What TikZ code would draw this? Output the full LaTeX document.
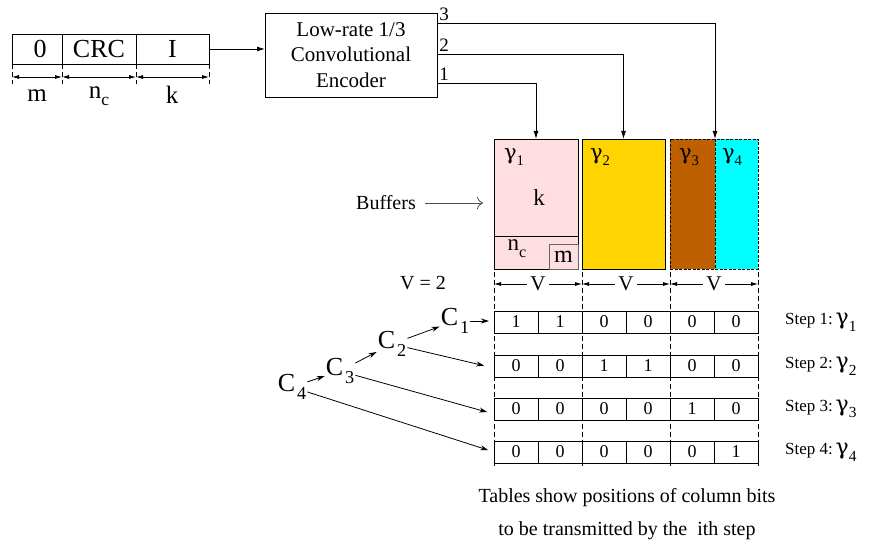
\documentclass[tikz,border=0pt]{standalone}
\usepackage{fontspec}
\setmainfont{Liberation Serif}
\newfontfamily\greekfont{DejaVu Serif}
\usetikzlibrary{arrows.meta}

\definecolor{bufpink}{RGB}{255,222,226}
\definecolor{bufgold}{RGB}{255,212,0}
\definecolor{bufbrown}{RGB}{191,96,0}
\definecolor{bufcyan}{RGB}{0,255,255}

\newcommand{\lowsub}[1]{\raisebox{-0.3em}{\scalebox{0.7}{#1}}}
\newcommand{\gam}{{\greekfont γ}}

\tikzset{
  box/.style={draw, line width=0.9pt, inner sep=0pt, outer sep=0pt},
  feed/.style={line width=0.9pt, -{Latex[length=8pt,width=5pt]}},
  dimline/.style={line width=0.8pt, {Latex[length=7pt,width=4pt]}-{Latex[length=7pt,width=4pt]}},
  tick/.style={line width=0.8pt, dash pattern=on 5pt off 3pt},
  carrow/.style={line width=0.8pt, -{Stealth[length=8pt,width=5pt]}},
  bitcell/.style={draw, line width=0.9pt, minimum width=44pt, minimum height=22pt,
    inner sep=0pt, outer sep=0pt, font=\fontsize{18}{18}\selectfont},
  lbl/.style={inner sep=1pt, font=\fontsize{23}{23}\selectfont},
  steplbl/.style={inner sep=0pt, anchor=west, font=\fontsize{17}{17}\selectfont},
}

\begin{document}
\begin{tikzpicture}[x=1pt, y=-1pt]
    \useasboundingbox (0,0) rectangle (871,548);

    % Input Block
    \node[box, minimum width=50pt, minimum height=30pt, font=\fontsize{26}{26}\selectfont] (zero) at (37,49) {\hspace{6pt}0};
    \node[box, minimum width=74pt, minimum height=30pt, font=\fontsize{26}{26}\selectfont] (crc) at (99,49) {CRC};
    \node[box, minimum width=73pt, minimum height=30pt, font=\fontsize{26}{26}\selectfont] (info) at (172.5,49) {I};

    % Block Ticks
    \foreach \x in {12,62,136,209}
        \draw[tick] (\x,64) -- (\x,84);

    % Block Widths
    \draw[dimline] (12,77) -- (62,77);
    \draw[dimline] (62,77) -- (136,77);
    \draw[dimline] (136,77) -- (209,77);
    \node[lbl, font=\fontsize{25}{25}\selectfont] (wm) at (37,96) {m};
    \node[lbl, font=\fontsize{25}{25}\selectfont] (wnc) at (99,96) {n\lowsub{c}};
    \node[lbl, font=\fontsize{25}{25}\selectfont] (wk) at (172,95) {k};

    % Encoder
    \node[box, minimum width=172pt, minimum height=84pt, align=center,
        font=\fontsize{21}{25.5}\selectfont] (enc) at (351,55) {Low-rate 1/3\\Convolutional\\Encoder};
    \draw[feed] (info.east) -- (info.east -| enc.west);

    % Buffers
    \node[box, fill=bufpink, minimum width=84pt, minimum height=130pt] (buf1) at (536,204) {};
    \node[box, fill=bufgold, minimum width=83pt, minimum height=130pt] (buf2) at (623.5,204) {};
    \node[box, fill=bufbrown, dash pattern=on 3pt off 1.5pt, minimum width=45pt, minimum height=130pt] (buf3) at (692.5,204) {};
    \node[box, fill=bufcyan, dash pattern=on 3pt off 1.5pt, minimum width=43pt, minimum height=130pt] (buf4) at (736.5,204) {};

    % -- first buffer split
    \draw[line width=0.9pt] (buf1.west |- 0,236) -- (buf1.east |- 0,236);
    \node[box, draw=black!60, minimum width=29pt, minimum height=25pt, anchor=south east,
        font=\fontsize{24}{24}\selectfont] (mbox) at (buf1.south east) {m};
    \node[lbl] (bk) at (539,198) {k};
    \node[lbl] (bnc) at (517,249) {n\lowsub{c}};

    % -- buffer headers
    \node[lbl, font=\fontsize{21}{21}\selectfont] (g1) at (514,157) {\gam\lowsub{1}};
    \node[lbl, font=\fontsize{21}{21}\selectfont] (g2) at (600,157) {\gam\lowsub{2}};
    \node[lbl, font=\fontsize{21}{21}\selectfont] (g3) at (689,157) {\gam\lowsub{3}};
    \node[lbl, font=\fontsize{21}{21}\selectfont] (g4) at (732,157) {\gam\lowsub{4}};

    % Encoder Outputs
    \draw[feed] (enc.east |- 0,83) node[above right, inner sep=2pt, font=\fontsize{19}{19}\selectfont] {1} -| (buf1.north);
    \draw[feed] (enc.east |- 0,54) node[above right, inner sep=2pt, font=\fontsize{19}{19}\selectfont] {2} -| (buf2.north);
    \draw[feed] (enc.east |- 0,23) node[above right, inner sep=2pt, font=\fontsize{19}{19}\selectfont] {3} -| (buf3.north east);

    \node[inner sep=0pt, font=\fontsize{20}{20}\selectfont] (buflbl) at (386,203) {Buffers};
    \draw[line width=0.8pt, black!70, -{To[length=6pt]}, shorten <=9pt, shorten >=11pt]
        (buflbl.east) -- (buflbl.east -| buf1.west);

    % Column Widths
    \node[inner sep=0pt, font=\fontsize{20}{20}\selectfont] (vval) at (423,283) {V = 2};
    \foreach \x in {494,582,670,758}
        \draw[tick] (\x,272) -- (\x,466);
    \draw[dimline] (494,284) -- node[fill=white, inner sep=3pt, font=\fontsize{21}{21}\selectfont] {V} (582,284);
    \draw[dimline] (582,284) -- node[fill=white, inner sep=3pt, font=\fontsize{21}{21}\selectfont] {V} (670,284);
    \draw[dimline] (670,284) -- node[fill=white, inner sep=3pt, font=\fontsize{21}{21}\selectfont] {V} (758,284);

    % Step Tables
    \foreach \r/\y/\bits in {1/322/{1,1,0,0,0,0}, 2/366/{0,0,1,1,0,0},
                             3/409/{0,0,0,0,1,0}, 4/452/{0,0,0,0,0,1}} {
        \foreach \b [count=\j] in \bits
            \node[bitcell] (cell-\r-\j) at ({494+44*(\j-0.5)},\y) {\b};
        \node[steplbl] (step\r) at (785,\y)
            {Step \r:\,{\fontsize{22}{22}\selectfont\gam\lowsub{\r}}};
    }

    % Column Sets
    \node[inner sep=1pt, font=\fontsize{26}{26}\selectfont] (c1) at (455,321) {C\kern2pt\lowsub{1}};
    \node[inner sep=1pt, font=\fontsize{26}{26}\selectfont] (c2) at (392,344) {C\kern2pt\lowsub{2}};
    \node[inner sep=1pt, font=\fontsize{26}{26}\selectfont] (c3) at (340,371) {C\kern2pt\lowsub{3}};
    \node[inner sep=1pt, font=\fontsize{26}{26}\selectfont] (c4) at (292,387) {C\kern2pt\lowsub{4}};

    \draw[carrow] (c4) -- (c3);
    \draw[carrow] (c3) -- (c2);
    \draw[carrow] (c2) -- (c1);
    \draw[carrow, shorten >=5pt] (c1.east) -- (c1.east -| cell-1-1.west);
    \draw[carrow, shorten >=10pt] (c2) -- ([yshift=-2pt]cell-2-1.west);
    \draw[carrow, shorten >=7pt] (c3) -- ([yshift=-5pt]cell-3-1.west);
    \draw[carrow, shorten >=6pt] (c4) -- (cell-4-1.west);

    % Caption
    \node[align=center, font=\fontsize{20}{33}\selectfont] (note) at (627,514)
        {Tables show positions of column bits\\to be transmitted by the\ \ ith step};
\end{tikzpicture}
\end{document}
